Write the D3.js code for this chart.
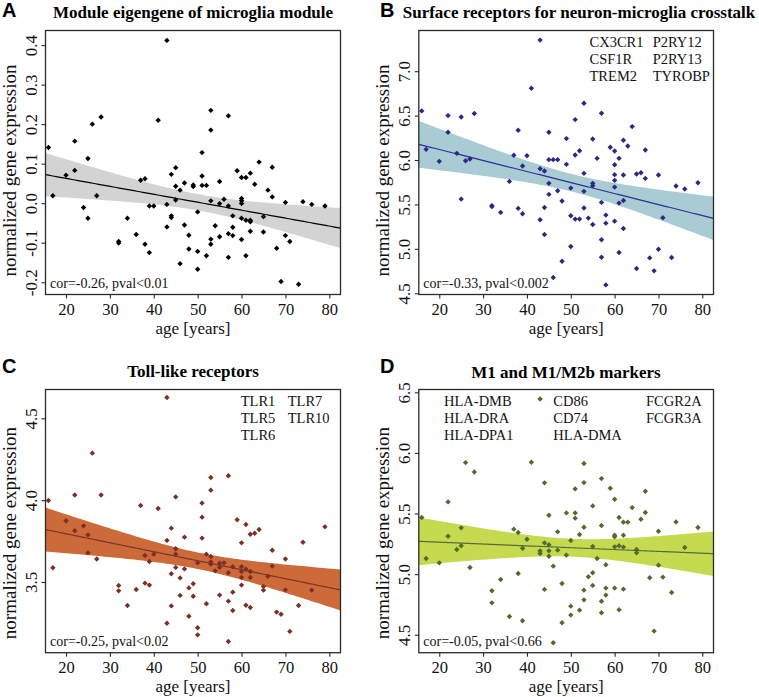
<!DOCTYPE html>
<html><head><meta charset="utf-8">
<script src="https://cdn.jsdelivr.net/npm/d3@7"></script>
<style>body{margin:0;background:#fff}svg{display:block}</style>
</head><body>
<svg id="chart" width="759" height="697"></svg>
<script>
// ---------------- data ----------------
const ageTicks = [20, 30, 40, 50, 60, 70, 80];
const ageDomain = [15.33, 82.55];

const titles = ["Module eigengene of microglia module", "Surface receptors for neuron-microglia crosstalk", "Toll-like receptors", "M1 and M1/M2b markers"];
const panelLetters = ["A", "B", "C", "D"];
const corTexts = ["cor=-0.26, pval<0.01", "cor=-0.33, pval<0.002", "cor=-0.25, pval<0.02", "cor=-0.05, pval<0.66"];

const genesB = [["CX3CR1", "CSF1R", "TREM2"], ["P2RY12", "P2RY13", "TYROBP"]];
const genesC = [["TLR1", "TLR5", "TLR6"], ["TLR7", "TLR10"]];
const genesD = [["HLA-DMB", "HLA-DRA", "HLA-DPA1"], ["CD86", "CD74", "HLA-DMA"], ["FCGR2A", "FCGR3A"]];

const yTicksA = [-0.2, -0.1, 0.0, 0.1, 0.2, 0.3, 0.4];
const yTicksB = [4.5, 5.0, 5.5, 6.0, 6.5, 7.0];
const yTicksC = [3.5, 4.0, 4.5];
const yTicksD = [4.5, 5.0, 5.5, 6.0, 6.5];
const yDomainA = [-0.231, 0.437];
const yDomainB = [4.486, 7.458];
const yDomainC = [3.068, 4.676];
const yDomainD = [4.352, 6.523];

const agesA = [16,17,20,22,22,24,25,25,26,27,28,32,32,34,36,37,38,38,39,39,40,41,43,43,43,44,44,44,45,45,45,46,46,47,47,48,48,49,49,50,50,50,51,51,51,52,52,53,53,53,53,53,54,55,55,55,56,57,57,57,57,58,58,58,59,60,60,60,60,60,60,61,61,61,62,62,62,62,63,64,65,65,66,67,67,68,69,70,70,71,73,74,76,79];
const valuesA = [0.141,0.019,0.071,0.157,0.083,-0.011,-0.038,0.113,0.200,0.019,0.218,-0.097,-0.101,-0.038,-0.079,0.058,0.062,-0.104,-0.125,-0.007,-0.007,0.210,0.412,-0.003,-0.060,0.073,-0.032,-0.036,0.090,0.043,0.008,0.033,-0.153,0.051,-0.055,-0.081,-0.116,0.046,0.042,-0.022,-0.122,-0.167,0.128,0.069,0.045,0.045,-0.133,0.235,0.185,0.006,-0.091,-0.104,-0.057,0.055,-0.001,-0.085,0.010,0.221,-0.007,-0.077,-0.137,-0.032,-0.061,-0.082,0.082,0.065,0.012,0.006,-0.001,-0.038,-0.092,0.065,-0.043,-0.133,0.076,-0.043,-0.047,-0.071,0.048,0.104,-0.034,-0.073,0.033,0.091,0.016,-0.114,-0.198,0.002,-0.082,-0.097,-0.205,0.004,-0.003,-0.007];

const agesB = [16,17,20,22,22,24,25,25,26,27,28,32,32,34,36,37,38,38,39,39,40,41,43,43,43,44,44,44,45,45,45,45,46,46,47,47,48,48,49,49,50,50,50,51,51,51,52,52,53,53,53,53,54,55,55,55,55,56,57,57,57,57,58,58,58,59,60,60,60,60,60,60,61,61,61,62,62,62,62,63,64,65,65,66,67,67,68,69,70,70,71,73,74,76,79];
const valuesB = [6.553,6.120,5.985,6.500,6.312,6.075,6.485,5.560,5.992,6.011,6.523,5.475,5.487,5.410,5.759,6.053,6.335,5.455,5.932,5.395,6.049,6.808,7.350,5.902,5.327,5.876,5.466,5.162,6.312,6.004,5.737,5.613,6.004,4.677,6.004,5.654,5.538,4.861,6.241,5.951,5.684,5.372,5.026,6.455,6.056,5.335,6.105,5.335,6.639,5.850,5.647,5.459,5.346,6.237,5.737,5.711,5.274,6.019,6.526,5.523,5.102,4.906,5.380,5.289,4.594,6.143,6.102,5.947,5.835,5.771,5.695,5.312,6.019,5.515,4.959,6.222,5.831,5.545,5.229,6.158,6.376,5.842,4.778,5.857,6.113,5.793,4.898,4.752,5.831,4.996,5.350,4.902,5.707,5.673,5.744];

const agesC = [16,17,20,22,22,24,25,25,26,27,28,32,32,34,36,37,38,38,39,39,40,41,43,43,43,44,44,44,45,45,45,45,46,46,47,47,48,48,49,49,50,50,50,51,51,51,52,52,53,53,53,53,53,54,55,55,55,56,57,57,57,57,58,58,58,59,60,60,60,60,60,61,61,61,62,62,62,62,63,64,65,65,66,67,67,68,69,70,70,71,73,74,76,79];
const valuesC = [3.998,3.587,3.874,4.031,3.813,3.843,3.788,3.678,4.287,3.640,4.031,3.479,3.446,3.356,3.454,3.967,3.493,3.662,3.625,3.481,3.670,3.949,4.627,3.248,3.754,3.829,3.550,3.354,4.020,3.703,3.670,3.589,3.525,3.418,3.774,3.580,3.464,3.291,3.489,3.413,3.617,3.220,3.177,3.982,3.896,3.768,3.670,3.367,4.138,4.061,3.656,3.623,3.609,3.568,3.615,3.589,3.420,3.617,4.149,3.556,3.383,3.136,3.593,3.438,3.326,3.880,3.739,3.593,3.564,3.527,3.481,3.851,3.578,3.358,3.792,3.564,3.527,3.344,3.798,3.821,3.473,3.450,3.534,3.694,3.597,3.316,3.303,3.640,3.452,3.198,3.356,3.743,3.450,3.837];

const agesD = [16,17,20,22,22,24,25,25,26,27,28,32,32,34,36,37,38,38,39,39,40,41,43,43,43,44,44,44,45,45,45,45,46,46,47,47,48,48,49,49,50,50,50,51,51,51,52,52,53,53,53,53,53,54,55,55,55,55,56,57,57,57,57,58,58,58,59,60,60,60,60,60,61,61,61,62,62,62,62,63,64,65,65,66,67,67,68,69,70,70,71,73,74,76,79];
const valuesD = [5.467,5.129,5.093,5.596,5.313,5.203,5.382,5.234,5.920,5.055,5.843,4.863,4.763,4.956,4.651,5.371,5.343,5.005,5.214,4.615,5.288,5.923,6.445,5.192,5.170,5.753,5.258,4.874,5.486,5.242,5.192,5.148,5.066,4.434,5.349,5.198,4.923,4.599,5.505,5.157,5.277,4.736,4.662,5.703,5.505,5.462,5.327,4.703,5.912,5.755,5.387,4.868,4.788,4.978,5.563,5.228,5.011,4.907,5.129,5.788,5.401,4.777,4.681,5.077,4.885,4.827,5.709,5.618,5.321,5.308,5.225,4.885,5.467,5.234,4.706,5.429,5.321,5.223,4.876,5.429,5.549,5.203,5.176,5.453,5.684,5.508,4.970,4.530,5.354,5.074,4.975,4.849,5.431,5.220,5.385];

// ---------------- layout / style ----------------
const frames = [
  {left: 45.5, right: 340.5, top: 30.5, bottom: 294.5},
  {left: 418.8, right: 713.5, top: 30.5, bottom: 294.5},
  {left: 45.5, right: 340.5, top: 389.5, bottom: 652.7},
  {left: 418.8, right: 713.5, top: 389.5, bottom: 652.7}
];
const styles = [
  {point: "#000000", line: "#000000", band: "#d3d3d3"},
  {point: "#2a2885", line: "#2f2f95", band: "#a9cbd4"},
  {point: "#7c2f25", line: "#7a3526", band: "#cd6a3a"},
  {point: "#526a2c", line: "#5a6b3a", band: "#c5da4f"}
];
const titleCenters = [193, 579, 193, 566];
const titleBaselines = [17.5, 17.5, 376.5, 377.5];
const letterPos = [[2, 17], [380, 17], [2, 373], [380, 373]];
const legendCols = [[], [589.5, 652.7], [240.7, 287.7], [444, 553.3, 646]];
const yLabelShift = [8, 8, 12, 12];

const panels = [
  {ages: agesA, values: valuesA, yTicks: yTicksA, yDomain: yDomainA, genes: []},
  {ages: agesB, values: valuesB, yTicks: yTicksB, yDomain: yDomainB, genes: genesB},
  {ages: agesC, values: valuesC, yTicks: yTicksC, yDomain: yDomainC, genes: genesC},
  {ages: agesD, values: valuesD, yTicks: yTicksD, yDomain: yDomainD, genes: genesD}
];

const SERIF = "'Liberation Serif','Times New Roman',Times,serif";
const SANS = "'Liberation Sans',Arial,Helvetica,sans-serif";
const T_CRIT = 1.987; // 97.5% t quantile, ~90 df
const fmt1 = d => d3.format(".1f")(d).replace("\u2212", "-");

function linearFit(xs, ys) {
  const n = xs.length;
  const mx = d3.mean(xs), my = d3.mean(ys);
  let sxx = 0, sxy = 0;
  for (let i = 0; i < n; i++) { sxx += (xs[i] - mx) ** 2; sxy += (xs[i] - mx) * (ys[i] - my); }
  const b = sxy / sxx, a = my - b * mx;
  let sse = 0;
  for (let i = 0; i < n; i++) sse += (ys[i] - a - b * xs[i]) ** 2;
  const s = Math.sqrt(sse / (n - 2));
  return {
    pred: x => a + b * x,
    half: x => T_CRIT * s * Math.sqrt(1 / n + (x - mx) ** 2 / sxx)
  };
}

const svg = d3.select("#chart");

panels.forEach((p, i) => {
  const f = frames[i], st = styles[i];
  const x = d3.scaleLinear().domain(ageDomain).range([f.left, f.right]);
  const y = d3.scaleLinear().domain(p.yDomain).range([f.bottom, f.top]);
  const g = svg.append("g");

  const clipId = "clip" + i;
  svg.append("clipPath").attr("id", clipId).append("rect")
    .attr("x", f.left).attr("y", f.top).attr("width", f.right - f.left).attr("height", f.bottom - f.top);

  // regression band + line
  const fit = linearFit(p.ages, p.values);
  const grid = d3.range(0, 101).map(k => ageDomain[0] + (ageDomain[1] - ageDomain[0]) * k / 100);
  const area = d3.area().x(d => x(d)).y0(d => y(fit.pred(d) - fit.half(d))).y1(d => y(fit.pred(d) + fit.half(d)));
  const plot = g.append("g").attr("clip-path", `url(#${clipId})`);
  plot.append("path").datum(grid).attr("d", area).attr("fill", st.band);
  plot.append("path").datum(grid)
    .attr("d", d3.line().x(d => x(d)).y(d => y(fit.pred(d))))
    .attr("fill", "none").attr("stroke", st.line).attr("stroke-width", 1.2);

  // points (filled diamonds)
  const r = 2.7;
  plot.selectAll("path.pt").data(p.ages.map((a, k) => [a, p.values[k]])).enter().append("path")
    .attr("class", "pt")
    .attr("d", d => { const cx = x(d[0]), cy = y(d[1]); return `M${cx},${cy - r}L${cx + r},${cy}L${cx},${cy + r}L${cx - r},${cy}Z`; })
    .attr("fill", st.point);

  // frame
  g.append("rect").attr("x", f.left).attr("y", f.top).attr("width", f.right - f.left).attr("height", f.bottom - f.top)
    .attr("fill", "none").attr("stroke", "#2a2a2a").attr("stroke-width", 1.3);

  // x axis
  const xa = g.append("g").attr("transform", `translate(0,${f.bottom})`)
    .call(d3.axisBottom(x).tickValues(ageTicks).tickSize(4).tickPadding(4.5).tickFormat(d3.format("d")));
  xa.select(".domain").remove();
  xa.selectAll("line").attr("stroke", "#2a2a2a").attr("stroke-width", 1.1);
  xa.selectAll("text").attr("font-family", SERIF).attr("font-size", 16.5).attr("fill", "#111");

  // y axis
  const ya = g.append("g").attr("transform", `translate(${f.left},0)`)
    .call(d3.axisLeft(y).tickValues(p.yTicks).tickSize(4).tickFormat(fmt1));
  ya.select(".domain").remove();
  ya.selectAll("line").attr("stroke", "#2a2a2a").attr("stroke-width", 1.1);
  ya.selectAll("text").attr("x", 0).attr("dy", 0).attr("text-anchor", "middle")
    .attr("transform", "translate(-8.5,0) rotate(-90)")
    .attr("font-family", SERIF).attr("font-size", 17).attr("fill", "#111");

  // axis titles
  g.append("text").attr("x", (f.left + f.right) / 2).attr("y", f.bottom + 39.5)
    .attr("text-anchor", "middle").attr("font-family", SERIF).attr("font-size", 17).attr("fill", "#111")
    .text("age [years]");
  g.append("text").attr("transform", `translate(${f.left - 30},${(f.top + f.bottom) / 2 + yLabelShift[i]}) rotate(-90)`)
    .attr("text-anchor", "middle").attr("font-family", SERIF).attr("font-size", 19).attr("fill", "#111")
    .text("normalized gene expression");

  // title & panel letter
  g.append("text").attr("x", titleCenters[i]).attr("y", titleBaselines[i])
    .attr("text-anchor", "middle").attr("font-family", SERIF).attr("font-weight", "bold").attr("font-size", 17)
    .attr("fill", "#000").text(titles[i]);
  g.append("text").attr("x", letterPos[i][0]).attr("y", letterPos[i][1])
    .attr("font-family", SANS).attr("font-weight", "bold").attr("font-size", 20).attr("fill", "#000")
    .text(panelLetters[i]);

  // gene legend
  p.genes.forEach((col, c) => {
    col.forEach((gene, k) => {
      g.append("text").attr("x", legendCols[i][c]).attr("y", f.top + 16.5 + k * 17)
        .attr("font-family", SERIF).attr("font-size", 14.5).attr("fill", "#111").text(gene);
    });
  });

  // correlation text
  g.append("text").attr("x", f.left + 4.5).attr("y", f.bottom - 6.8)
    .attr("font-family", SERIF).attr("font-size", 14).attr("fill", "#111").text(corTexts[i]);
});
</script>
</body></html>
